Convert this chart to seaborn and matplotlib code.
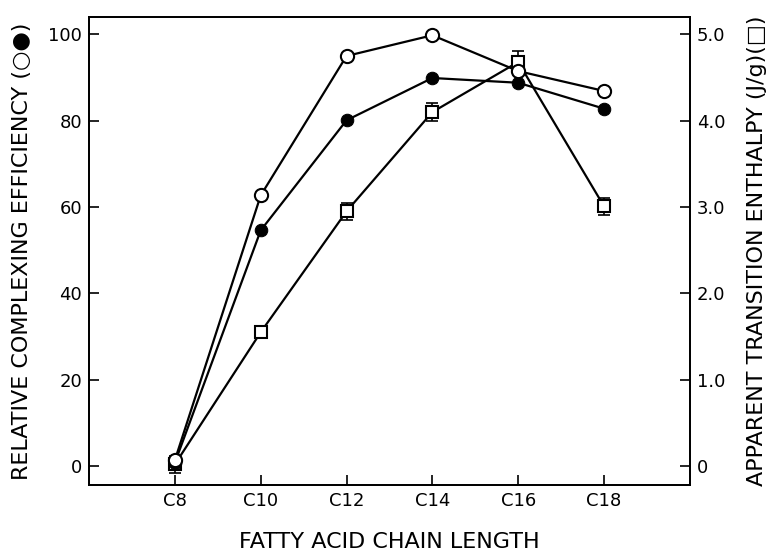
import matplotlib
matplotlib.use("Agg")
import matplotlib.pyplot as plt
import seaborn as sns
import pandas as pd

# Data
chain_length = [8, 10, 12, 14, 16, 18]
tick_labels = ["C8", "C10", "C12", "C14", "C16", "C18"]
eff_open = [1.4, 62.7, 95.0, 99.8, 91.5, 86.9]
eff_filled = [0.8, 54.6, 80.1, 89.9, 88.8, 82.8]
enthalpy = [0.02, 1.55, 2.95, 4.10, 4.68, 3.01]
enthalpy_err = [0.10, 0.06, 0.10, 0.10, 0.13, 0.10]

sns.set_theme(style="ticks")
plt.rcParams['font.family'] = ['DejaVu Sans']

fig = plt.figure(figsize=(7.75, 5.53), dpi=100)
ax = fig.add_axes([0.115, 0.123, 0.775, 0.846])
ax2 = ax.twinx()

df = pd.DataFrame({"x": chain_length, "open": eff_open, "filled": eff_filled,
                   "enth": enthalpy, "err": enthalpy_err})

lw = 1.6
sns.lineplot(data=df, x="x", y="filled", ax=ax, color="black", lw=lw,
             marker="o", markersize=9, markerfacecolor="black",
             markeredgecolor="black", zorder=3)
sns.lineplot(data=df, x="x", y="open", ax=ax, color="black", lw=lw,
             marker="o", markersize=9.5, markerfacecolor="white",
             markeredgecolor="black", markeredgewidth=1.5, zorder=4)

ax2.errorbar(df["x"], df["enth"], yerr=df["err"], fmt="none", ecolor="black",
             elinewidth=1.2, capsize=4, capthick=1.2, zorder=2)
sns.lineplot(data=df, x="x", y="enth", ax=ax2, color="black", lw=lw,
             marker="s", markersize=9, markerfacecolor="white",
             markeredgecolor="black", markeredgewidth=1.5, zorder=3)

ax.set_xlim(6, 20)
ax.set_ylim(-4.4, 104)
ax2.set_ylim(-4.4 / 20, 104 / 20)

ax.set_xticks(chain_length)
ax.set_xticklabels(tick_labels)
ax.set_yticks([0, 20, 40, 60, 80, 100])
ax2.set_yticks([0, 1, 2, 3, 4, 5])
ax2.set_yticklabels(["0", "1.0", "2.0", "3.0", "4.0", "5.0"])

for a in (ax, ax2):
    for s in a.spines.values():
        s.set_visible(True)
        s.set_color("black")
        s.set_linewidth(1.3)
    a.tick_params(direction="in", length=7, width=1.2, colors="black",
                  labelsize=13, pad=5)

ax.set_xlabel("FATTY ACID CHAIN LENGTH", fontsize=16, labelpad=16, color="black")
ax.set_ylabel("RELATIVE COMPLEXING EFFICIENCY (\u25cb\u25cf)", fontsize=16,
              labelpad=12, color="black")
ax2.set_ylabel("APPARENT TRANSITION ENTHALPY (J/g)(\u25a1)", fontsize=16,
               labelpad=16, color="black", rotation=90)

ax.set_zorder(ax2.get_zorder() + 1)
ax.patch.set_visible(False)

fig.savefig("out.png", dpi=100)
